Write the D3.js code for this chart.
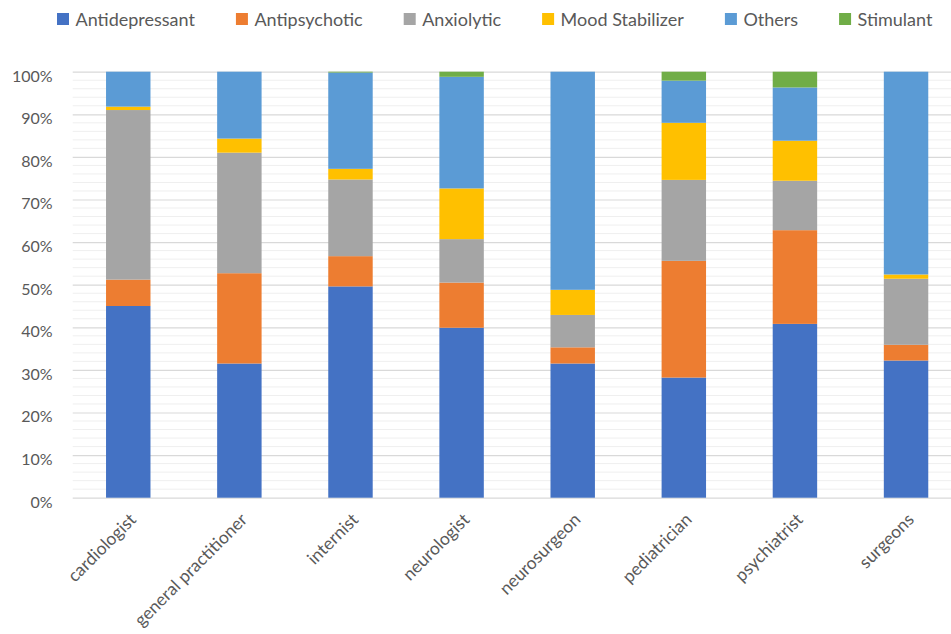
<!DOCTYPE html>
<html>
<head>
<meta charset="utf-8">
<script src="https://cdn.jsdelivr.net/npm/d3@7"></script>
<style>
  html, body { margin: 0; padding: 0; background: #fff; }
  svg { display: block; }
  svg text { font-family: Lato, "Open Sans", sans-serif; }
</style>
</head>
<body>
<svg id="chart" width="951" height="634"></svg>
<script>
// Share of prescriptions by drug class for each specialty (percent)
const specialties = ["cardiologist", "general practitioner", "internist", "neurologist",
                     "neurosurgeon", "pediatrician", "psychiatrist", "surgeons"];
const drugClasses = ["Antidepressant", "Antipsychotic", "Anxiolytic", "Mood Stabilizer", "Others", "Stimulant"];
const classColors = ["#4472C4", "#ED7D31", "#A5A5A5", "#FFC000", "#5B9BD5", "#70AD47"];

const antidepressant = [45.0, 31.5, 49.6, 39.9, 31.5, 28.2, 40.8, 32.2];
const antipsychotic  = [ 6.2, 21.2,  7.1, 10.6,  3.8, 27.4, 22.0,  3.7];
const anxiolytic     = [39.8, 28.3, 18.0, 10.2,  7.6, 19.0, 11.6, 15.5];
const moodStabilizer = [ 0.8,  3.3,  2.5, 11.9,  5.9, 13.4,  9.4,  1.0];
const others         = [ 8.2, 15.7, 22.6, 26.2, 51.2,  9.9, 12.5, 47.6];
const stimulant      = [ 0.0,  0.0,  0.2,  1.2,  0.0,  2.1,  3.7,  0.0];

const yTickValues = [0, 0.1, 0.2, 0.3, 0.4, 0.5, 0.6, 0.7, 0.8, 0.9, 1.0];

const seriesValues = [antidepressant, antipsychotic, anxiolytic, moodStabilizer, others, stimulant];
const rows = specialties.map((s, i) => {
  const r = { specialty: s };
  drugClasses.forEach((c, k) => { r[c] = seriesValues[k][i]; });
  return r;
});

const svg = d3.select("#chart");
const textColor = "#595959";
const fontStack = "Lato, 'Open Sans', sans-serif";

const x = d3.scaleBand().domain(specialties).range([72.7, 961.6]).paddingInner(0.6).paddingOuter(0.3);
const y = d3.scaleLinear().domain([0, 1]).range([497.7, 71.7]);
const color = d3.scaleOrdinal().domain(drugClasses).range(classColors);

// Minor gridlines every 2%
svg.append("g")
  .selectAll("line")
  .data(d3.range(0, 101, 2).filter(v => v % 10 !== 0).map(v => v / 100))
  .join("line")
  .attr("x1", 72.7).attr("x2", 951)
  .attr("y1", d => y(d)).attr("y2", d => y(d))
  .attr("stroke", "#EFEFEF").attr("stroke-width", 1);

// Major gridlines and y-axis labels
const yAxis = d3.axisLeft(y).tickValues(yTickValues).tickFormat(d3.format(".0%")).tickSize(0).tickPadding(20);
const yG = svg.append("g").attr("transform", "translate(72.7,0)").call(yAxis)
  .attr("font-family", fontStack);
yG.select(".domain").remove();
yG.selectAll(".tick text")
  .attr("fill", textColor).attr("font-size", 16).attr("dy", "0.72em").attr("y", -2.2);
yG.selectAll(".tick line").remove();
yG.selectAll(".tick").append("line")
  .attr("x1", 0).attr("x2", 951 - 72.7)
  .attr("stroke", "#D9D9D9").attr("stroke-width", 1.2);

// Stacked bars
const stack = d3.stack().keys(drugClasses).offset(d3.stackOffsetExpand);
const layers = stack(rows);
svg.append("g")
  .selectAll("g")
  .data(layers)
  .join("g")
  .attr("fill", d => color(d.key))
  .selectAll("rect")
  .data(d => d)
  .join("rect")
  .attr("x", d => x(d.data.specialty))
  .attr("width", x.bandwidth())
  .attr("y", d => y(d[1]))
  .attr("height", d => Math.max(0, y(d[0]) - y(d[1])));

// Category labels, rotated
const xAxis = d3.axisBottom(x).tickSize(0).tickPadding(0);
const xG = svg.append("g").attr("transform", "translate(0,497.7)").call(xAxis)
  .attr("font-family", fontStack);
xG.select(".domain").remove();
xG.selectAll(".tick text")
  .attr("fill", textColor).attr("font-size", 17.5)
  .attr("text-anchor", "end")
  .attr("dy", 0).attr("y", 0)
  .attr("transform", "translate(9,23) rotate(-45)");

// Legend
const legend = svg.append("g").attr("transform", "translate(57,0)");
let lx = 0;
drugClasses.forEach((c, i) => {
  const g = legend.append("g").attr("transform", `translate(${lx},0)`);
  g.append("rect").attr("x", 0).attr("y", 13).attr("width", 12).attr("height", 12).attr("fill", classColors[i]);
  const t = g.append("text").attr("x", 18.5).attr("y", 25.5)
    .attr("font-size", 18).attr("fill", textColor).text(c);
  lx += 18.5 + t.node().getComputedTextLength() + 41;
});
</script>
</body>
</html>
